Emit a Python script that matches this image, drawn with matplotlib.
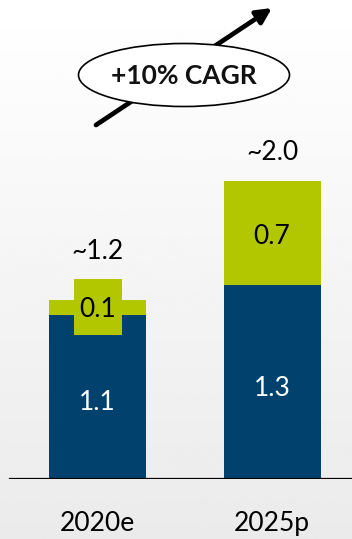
import numpy as np
import matplotlib
matplotlib.use("Agg")
import matplotlib.pyplot as plt
from matplotlib.patches import Ellipse, Rectangle

plt.rcParams['font.family'] = ['Lato', 'DejaVu Sans']

# ---- data ----
categories = ["2020e", "2025p"]
base_values = [1.1, 1.3]
growth_values = [0.1, 0.7]
total_labels = ["~1.2", "~2.0"]
base_labels = ["1.1", "1.3"]
growth_labels = ["0.1", "0.7"]
cagr_label = "+10% CAGR"

BLUE = "#01416D"
GREEN = "#B3C700"
FS = 19

W, H = 352, 539
fig = plt.figure(figsize=(W / 100, H / 100), dpi=100)

# background overlay axes in pixel coordinates
bg = fig.add_axes([0, 0, 1, 1], zorder=0)
bg.set_xlim(0, W)
bg.set_ylim(0, H)
bg.axis("off")
grad = np.linspace(0.92, 1.0, 256).reshape(-1, 1)
bg.imshow(grad, extent=[0, W, 0, H], origin="lower", cmap="gray", vmin=0, vmax=1,
          aspect="auto", zorder=0)

# main axes
ax = fig.add_axes([0, 60 / H, 1, 479 / H], zorder=1)
ax.patch.set_alpha(0)
x = np.arange(len(categories))
width = 0.556
ax.bar(x, base_values, width, color=BLUE, zorder=2)
ax.bar(x, growth_values, width, bottom=base_values, color=GREEN, zorder=2)
ax.set_xlim(-0.559, 1.458)
ax.set_ylim(0, 3.21)
for s in ax.spines.values():
    s.set_visible(False)
ax.set_yticks([])
ax.set_xticks(x)
ax.set_xticklabels(categories, fontsize=FS)
ax.tick_params(axis="x", length=0, pad=23)
ax.axhline(0, xmin=10 / W, xmax=1, color="black", lw=1.6, zorder=3)

totals = [b + g for b, g in zip(base_values, growth_values)]
for i in range(len(categories)):
    ax.annotate(base_labels[i], (x[i], base_values[i] / 2), xytext=(0, -6),
                textcoords="offset pixels", ha="center", va="center",
                color="white", fontsize=FS, zorder=4)
    gy = base_values[i] + growth_values[i] / 2
    if i == 0:
        bw, bh = 0.275, 0.376
        ax.add_patch(Rectangle((x[i] - bw / 2, gy - bh / 2), bw, bh, fc=GREEN,
                               ec="none", zorder=3))
        ax.annotate(growth_labels[i], (x[i], gy), xytext=(0, -2),
                    textcoords="offset pixels", ha="center", va="center",
                    fontsize=FS, color="black", zorder=4)
        off = 48
    else:
        ax.annotate(growth_labels[i], (x[i], gy), xytext=(0, -4),
                    textcoords="offset pixels", ha="center", va="center",
                    fontsize=FS, color="black", zorder=4)
        off = 28
    ax.annotate(total_labels[i], (x[i], totals[i]), xytext=(0, off),
                textcoords="offset pixels", ha="center", va="center",
                fontsize=FS, color="black", zorder=4)

# CAGR arrow + ellipse overlay
ov = fig.add_axes([0, 0, 1, 1], zorder=2)
ov.set_xlim(0, W)
ov.set_ylim(0, H)
ov.axis("off")
ov.patch.set_alpha(0)
ov.annotate("", xy=(272, H - 8), xytext=(96, H - 125),
            arrowprops=dict(arrowstyle="-|>,head_length=0.9,head_width=0.45",
                            lw=3.4, color="black", shrinkA=0, shrinkB=0,
                            capstyle="round"), zorder=1)
ov.add_patch(Ellipse((184, H - 75), 211, 63, fc="white", ec="black", lw=1.2, zorder=2))
ov.text(184, H - 76, cagr_label, ha="center", va="center", fontsize=19,
        fontweight="bold", color="#111111", zorder=3)

fig.savefig("out.png", dpi=100)
